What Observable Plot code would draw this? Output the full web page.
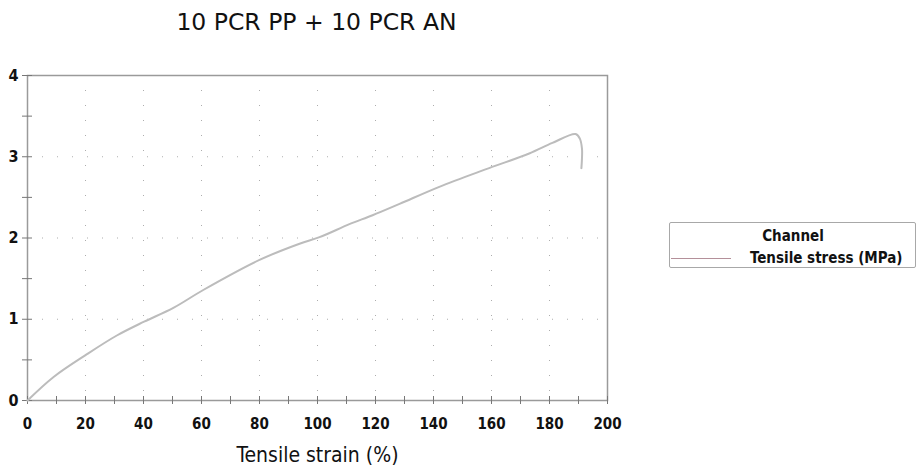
<!DOCTYPE html>
<html>
<head>
<meta charset="utf-8">
<script src="https://cdn.jsdelivr.net/npm/d3@7"></script>
<script src="https://cdn.jsdelivr.net/npm/@observablehq/plot@0.6"></script>
<style>
  body { margin: 0; background: #fff; }
  #wrap { position: relative; width: 921px; height: 468px; overflow: hidden; }
  #title { height: 40px; width: 633px; box-sizing: border-box; padding-top: 11px;
           text-align: center; font-family: "DejaVu Sans"; font-size: 23.5px; line-height: 23px; color: #111; }
  #legend { position: absolute; left: 669px; top: 222px; width: 247px; height: 46px;
            border: 1px solid #a8a8a8; border-radius: 2px; box-sizing: border-box;
            font-family: "DejaVu Sans Condensed", "DejaVu Sans"; font-weight: bold; font-size: 15px; color: #111; }
  #legend .head { position: absolute; left: 0; width: 246px; top: 4px; text-align: center; }
  #legend .row { position: absolute; left: 0; top: 26px; white-space: nowrap; }
  #legend .swatch { position: absolute; left: 1px; top: 9px; width: 60px; height: 0; border-top: 1.5px solid #b4909a; }
  #legend .lab { position: absolute; left: 80px; top: 0; }
  svg text { font-family: "DejaVu Sans Condensed", "DejaVu Sans"; }
</style>
</head>
<body>
<div id="wrap">
  <div id="title">10 PCR PP + 10 PCR AN</div>
  <div id="chart"></div>
  <div id="legend">
    <div class="head">Channel</div>
    <div class="row"><div class="swatch"></div><div class="lab">Tensile stress (MPa)</div></div>
  </div>
</div>
<script>
// Data
const strain = [0, 9, 20.5, 30.8, 40.2, 50.3, 60.6, 80, 93.8, 100.7, 111, 119, 128.3, 142, 159.2, 173, 181, 189, 190.5, 191.2, 191.2, 191];
const stress = [0, 0.29, 0.57, 0.80, 0.97, 1.14, 1.36, 1.73, 1.93, 2.01, 2.17, 2.28, 2.42, 2.63, 2.86, 3.04, 3.17, 3.28, 3.22, 3.10, 2.98, 2.86];
const xTickLabels = [0, 20, 40, 60, 80, 100, 120, 140, 160, 180, 200];
const xMinorTicks = [0, 10, 20, 30, 40, 50, 60, 70, 80, 90, 100, 110, 120, 130, 140, 150, 160, 170, 180, 190, 200];
const yTickLabels = [0, 1, 2, 3, 4];
const yMinorTicks = [0, 0.5, 1, 1.5, 2, 2.5, 3, 3.5, 4];
const xGrid = [20, 40, 60, 80, 100, 120, 140, 160, 180];
const yGrid = [1, 2, 3];

const curve = strain.map((s, i) => ({strain: s, stress: stress[i]}));

const chart = Plot.plot({
  width: 921,
  height: 428,
  marginTop: 35,
  marginBottom: 68,
  marginLeft: 27,
  marginRight: 314,
  x: {domain: [0, 200]},
  y: {domain: [0, 4]},
  marks: [
    Plot.ruleX(xGrid, {stroke: "#777", strokeDasharray: "1,14", strokeOpacity: 0.6}),
    Plot.ruleY(yGrid, {stroke: "#777", strokeDasharray: "1,14", strokeOpacity: 0.6}),
    Plot.frame({stroke: "#9a9a9a", strokeWidth: 1.5}),
    Plot.axisX({ticks: xMinorTicks, tickSize: 8, dy: -4, tickFormat: () => "", label: null, stroke: "#777"}),
    Plot.axisY({ticks: yMinorTicks, tickSize: 10, dx: 5, tickFormat: () => "", label: null, stroke: "#777"}),
    Plot.axisX({ticks: xTickLabels, tickSize: 0, tickPadding: 18, tickFormat: d3.format("d"),
                fontSize: 15, fontWeight: "bold", fill: "#111", label: null}),
    Plot.axisX({ticks: [], tickSize: 0, fontSize: 21, fill: "#111",
                label: "Tensile strain (%)", labelAnchor: "center", labelArrow: "none", labelOffset: 61}),
    Plot.axisY({ticks: yTickLabels, tickSize: 0, tickPadding: 9, tickFormat: d3.format("d"),
                fontSize: 16, fontWeight: "bold", fill: "#111", label: null}),
    Plot.line(curve, {x: "strain", y: "stress", stroke: "#bcbcbc", strokeWidth: 2, curve: "catmull-rom"})
  ]
});
document.getElementById("chart").appendChild(chart);
</script>
</body>
</html>
